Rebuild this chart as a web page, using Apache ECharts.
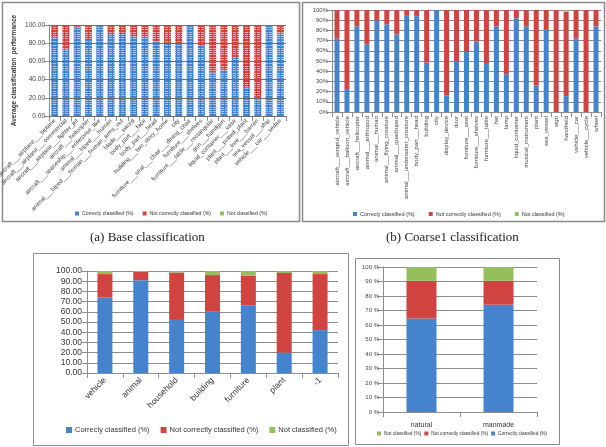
<!DOCTYPE html>
<html>
<head>
<meta charset="utf-8">
<script src="https://cdn.jsdelivr.net/npm/echarts@6/dist/echarts.min.js"></script>
<style>
  html, body { margin: 0; padding: 0; background: #fff; }
  #chart { width: 606px; height: 447px; }
</style>
</head>
<body>
<div id="chart"></div>
<script>
// ---- data: (a) base classification ----
const catsA = [
  'aircraft___airplane___biplane', 'aircraft___airplane___commercial', 'aircraft___airplane___fighter_jet',
  'aircraft___helicopter', 'aircraft___spaceship___enterprise_like', 'animal___biped___human',
  'animal___biped___human___human_arms_out', 'blade___sword', 'body_part___face', 'body_part___head',
  'building___two_story_home', 'city', 'furniture___seat___chair___dining_chair', 'furniture___shelves',
  'furniture___table___rectangular', 'gun___handgun', 'liquid_container___vase', 'plant___potted_plant',
  'plant___tree___barren', 'sea_vessel___ship', 'vehicle___car___sedan'
];
const correctA    = [86, 73, 98, 83.5, 100, 90, 90, 87.5, 87, 82, 80, 80, 100, 77, 48, 50, 64, 31, 18, 100, 91];
const notCorrectA = [14, 27, 2, 16.5, 0, 10, 10, 12.5, 13, 18, 20, 20, 0, 23, 52, 50, 36, 69, 82, 0, 9];
const notClassA   = [0, 0, 0, 0, 0, 0, 0, 0, 0, 0, 0, 0, 0, 0, 0, 0, 0, 0, 0, 0, 0];

// ---- data: (b) coarse1 classification ----
const catsB = [
  'aircraft___winged_vehicle', 'aircraft___balloon_vehicle', 'aircraft___helicopter', 'animal___arthropod',
  'animal___human', 'animal___flying_creature', 'animal___quadruped', 'animal___underwater_creature',
  'body_part___head', 'building', 'city', 'display_device', 'door', 'furniture___seat', 'furniture___shelves',
  'furniture___table', 'hat', 'lamp', 'liquid_container', 'musical_instrument', 'plant', 'sea_vessel',
  'sign', 'handheld', 'vehicle___car', 'vehicle___cycle', 'wheel'
];
const correctB    = [72, 22.5, 84, 66.5, 90, 86, 76, 95, 94, 48.5, 100, 16, 50, 59, 69, 48, 84, 37, 92, 84, 26, 80.5, 0, 15.5, 72, 0, 84];
const notCorrectB = [28, 77.5, 16, 33.5, 10, 14, 24, 5, 6, 51.5, 0, 84, 50, 41, 31, 52, 16, 63, 8, 16, 74, 19.5, 100, 83, 28, 100, 16];
const notClassB   = [0, 0, 0, 0, 0, 0, 0, 0, 0, 0, 0, 0, 0, 0, 0, 0, 0, 0, 0, 0, 0, 0, 0, 1.5, 0, 0, 0];

// ---- data: coarse2 ----
const catsC       = ['vehicle', 'animal', 'household', 'building', 'furniture', 'plant', '-1'];
const correctC    = [74, 91, 52, 60, 66, 20, 42];
const notCorrectC = [23, 8, 46.5, 36, 29.5, 78, 55];
const notClassC   = [3, 1, 1.5, 4, 4.5, 2, 3];

// ---- data: natural / manmade ----
const catsD       = ['natural', 'manmade'];
const correctD    = [64.5, 74];
const notCorrectD = [26, 16.5];
const notClassD   = [9.5, 9.5];

// tick settings
const ticksA = { min: 0, max: 100, interval: 20 };
const ticksB = { min: 0, max: 100, interval: 10 };
const ticksC = { min: 0, max: 100, interval: 10 };
const ticksD = { min: 0, max: 100, interval: 10 };

const BLUE = '#4584cc', RED = '#cf4441', GREEN = '#95bf5a';
const FONT = "'Liberation Sans Narrow', 'Liberation Sans', sans-serif";
const N1 = 'Correcly classified (%)', N2 = 'Not correctly classified (%)', N3 = 'Not classified (%)';
const N1d = 'Correctly classified (%)';

const chart = echarts.init(document.getElementById('chart'));

function bar(name, data, color, idx, width) {
  return {
    name: name, type: 'bar', stack: 'g' + idx, data: data,
    xAxisIndex: idx, yAxisIndex: idx, barWidth: width,
    itemStyle: { color: color }, z: 2, silent: true
  };
}

function legend(names, left, top, size, icon, gap) {
  return {
    data: names, left: left, top: top, width: 450, icon: 'rect', padding: 0,
    itemWidth: icon, itemHeight: icon, itemGap: gap,
    textStyle: { fontSize: size, color: '#333', fontFamily: FONT, padding: [0, 0, 0, -2] }
  };
}

const axisGray = { lineStyle: { color: '#8c8c8c', width: 1 } };

const option = {
  animation: false,
  textStyle: { fontFamily: FONT },
  grid: [
    { left: 49, top: 25, width: 237, height: 91, outerBoundsMode: 'none' },
    { left: 332, top: 10, width: 269, height: 102, outerBoundsMode: 'none' },
    { left: 87, top: 271, width: 251, height: 102, outerBoundsMode: 'none' },
    { left: 383, top: 267, width: 154, height: 145, outerBoundsMode: 'none' }
  ],
  xAxis: [
    { gridIndex: 0, type: 'category', data: catsA, axisLine: axisGray,
      axisTick: { show: true, lineStyle: { color: '#8c8c8c' } },
      axisLabel: { interval: 0, rotate: 45, fontSize: 6, color: '#444', margin: 4 } },
    { gridIndex: 1, type: 'category', data: catsB, axisLine: axisGray,
      axisTick: { show: true, lineStyle: { color: '#8c8c8c' } },
      axisLabel: { interval: 0, rotate: 90, fontSize: 6, color: '#444', margin: 4 } },
    { gridIndex: 2, type: 'category', data: catsC, axisLine: axisGray,
      axisTick: { show: true, lineStyle: { color: '#8c8c8c' } },
      axisLabel: { interval: 0, rotate: 45, fontSize: 8.5, color: '#333', margin: 6 } },
    { gridIndex: 3, type: 'category', data: catsD, axisLine: axisGray,
      axisTick: { show: true, lineStyle: { color: '#8c8c8c' } },
      axisLabel: { interval: 0, fontSize: 7, color: '#333', margin: 10 } }
  ],
  yAxis: [
    { gridIndex: 0, type: 'value', ...ticksA, z: 3,
      name: 'Average classification  performance', nameLocation: 'middle', nameGap: 31, nameRotate: 90,
      nameTextStyle: { fontSize: 6.5, fontWeight: 'bold', color: '#333' },
      axisLine: { show: true, lineStyle: { color: '#8c8c8c' } },
      axisTick: { show: true, lineStyle: { color: '#8c8c8c' } },
      axisLabel: { fontSize: 6.5, color: '#444', formatter: v => v.toFixed(2), margin: 4 },
      splitLine: { lineStyle: { color: '#6f6f6f', width: 1 } },
      minorTick: { show: false, splitNumber: 8 },
      minorSplitLine: { show: true, lineStyle: { color: '#e4e9f0', width: 0.7, type: [3, 1], opacity: 0.9 } } },
    { gridIndex: 1, type: 'value', ...ticksB,
      axisLine: { show: true, lineStyle: { color: '#8c8c8c' } },
      axisTick: { show: true, lineStyle: { color: '#8c8c8c' } },
      axisLabel: { fontSize: 6, color: '#444', formatter: v => v + '%', margin: 4 },
      splitLine: { lineStyle: { color: '#8c8c8c', width: 1 } } },
    { gridIndex: 2, type: 'value', ...ticksC,
      axisLine: { show: true, lineStyle: { color: '#8c8c8c' } },
      axisTick: { show: true, lineStyle: { color: '#8c8c8c' } },
      axisLabel: { fontSize: 8.5, color: '#333', formatter: v => v.toFixed(2), margin: 5 },
      splitLine: { lineStyle: { color: '#8c8c8c', width: 1 } } },
    { gridIndex: 3, type: 'value', ...ticksD,
      axisLine: { show: true, lineStyle: { color: '#8c8c8c' } },
      axisTick: { show: true, lineStyle: { color: '#8c8c8c' } },
      axisLabel: { fontSize: 6, color: '#444', formatter: v => v + ' %', margin: 4 },
      splitLine: { lineStyle: { color: '#8c8c8c', width: 1 } } }
  ],
  legend: [
    legend([N1, N2, N3], 75, 211, 5.2, 4, 9),
    legend([N1, N2, N3], 353, 211, 5.5, 4, 14),
    legend([N1, N2, N3], 66, 426, 7.5, 6, 11),
    legend([N3, N2, N1d], 377, 431, 4.8, 4, 3)
  ],
  series: [
    bar(N1, correctA, BLUE, 0, 7), bar(N2, notCorrectA, RED, 0, 7), bar(N3, notClassA, GREEN, 0, 7),
    bar(N1, correctB, BLUE, 1, 5), bar(N2, notCorrectB, RED, 1, 5), bar(N3, notClassB, GREEN, 1, 5),
    bar(N1, correctC, BLUE, 2, 15), bar(N2, notCorrectC, RED, 2, 15), bar(N3, notClassC, GREEN, 2, 15),
    bar(N1d, correctD, BLUE, 3, 30), bar(N2, notCorrectD, RED, 3, 30), bar(N3, notClassD, GREEN, 3, 30)
  ],
  graphic: [
    { type: 'rect', shape: { x: 2.5, y: 2.5, width: 297, height: 219 }, style: { fill: null, stroke: '#8a8a8a', lineWidth: 1.5 }, z: -1 },
    { type: 'rect', shape: { x: 302.5, y: 2.5, width: 302, height: 219 }, style: { fill: null, stroke: '#8a8a8a', lineWidth: 1.5 }, z: -1 },
    { type: 'rect', shape: { x: 33.5, y: 253.5, width: 315, height: 192 }, style: { fill: null, stroke: '#8a8a8a', lineWidth: 1 }, z: -1 },
    { type: 'rect', shape: { x: 355.5, y: 258.5, width: 204, height: 186 }, style: { fill: null, stroke: '#8a8a8a', lineWidth: 1 }, z: -1 },
    { type: 'text', left: 90, top: 231, style: { text: '(a) Base classification', fontSize: 13, fontFamily: "'Liberation Serif', 'DejaVu Serif', serif", fill: '#222' } },
    { type: 'text', left: 386, top: 231, style: { text: '(b) Coarse1 classification', fontSize: 13, fontFamily: "'Liberation Serif', 'DejaVu Serif', serif", fill: '#222' } }
  ]
};

chart.setOption(option);
</script>
</body>
</html>
